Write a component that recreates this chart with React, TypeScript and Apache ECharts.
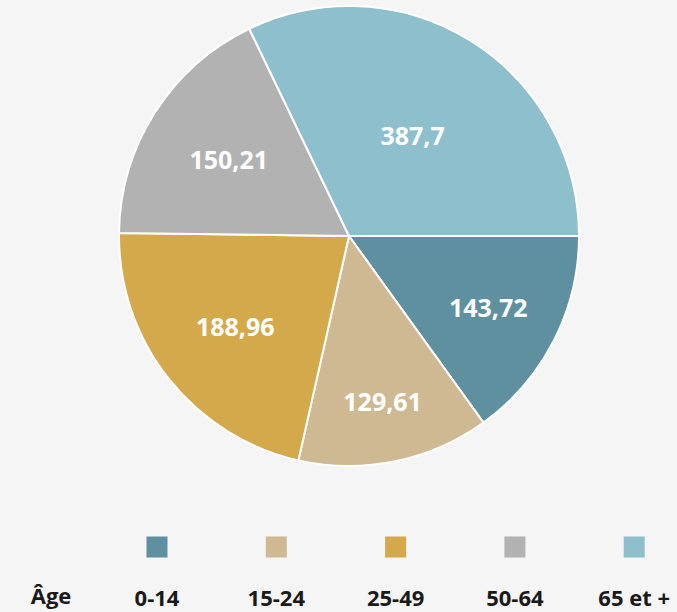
import React, { useEffect, useRef } from "react";
import * as echarts from "echarts";

const categories = ["0-14", "15-24", "25-49", "50-64", "65 et +"];
// Slice shares (%)
const shares = [15.06, 13.47, 21.68, 17.65, 32.14];
// Values printed on the slices
const labelValues = [143.72, 129.61, 188.96, 150.21, 387.7];
const colors = ["#5f909f", "#cfb993", "#d4a94c", "#b2b2b2", "#8ebfcc"];
const legendTitle = "Âge";

// layout constants
const CX = 349;
const CY = 236;
const R = 230;
const labelRadiusFactor = [0.68, 0.73, 0.63, 0.62, 0.52];

export default function App() {
  const ref = useRef<HTMLDivElement>(null);
  useEffect(() => {
    if (!ref.current) return;
    const chart = echarts.init(ref.current, null, { renderer: "svg" });
    const legendY = 547;
    const legendX0 = 157;
    const legendStep = 119.3;
    const graphics: any[] = [
      {
        type: "text",
        x: 51,
        y: 595,
        style: {
          text: legendTitle,
          fill: "#1a1a1a",
          font: "bold 22px 'Open Sans'",
          textAlign: "center",
          textVerticalAlign: "middle",
        },
      },
    ];
    categories.forEach((c, i) => {
      const x = legendX0 + i * legendStep;
      graphics.push({
        type: "rect",
        shape: { x: x - 10.5, y: legendY - 10.5, width: 21, height: 21 },
        style: { fill: colors[i] },
      });
      graphics.push({
        type: "text",
        x,
        y: 597,
        style: {
          text: c,
          fill: "#1a1a1a",
          font: "bold 22px 'Open Sans'",
          textAlign: "center",
          textVerticalAlign: "middle",
        },
      });
    });
    chart.setOption({
      animation: false,
      backgroundColor: "#f5f5f5",
      graphic: graphics,
      series: [
        {
          type: "pie",
          center: [CX, CY],
          radius: [0, R],
          startAngle: 0,
          clockwise: true,
          silent: true,
          itemStyle: { borderColor: "#ffffff", borderWidth: 2 },
          label: {
            show: true,
            position: "inside",
            color: "#ffffff",
            fontFamily: "Open Sans",
            fontWeight: "bold",
            fontSize: 25,
            formatter: (p: any) => String(labelValues[p.dataIndex]).replace(".", ","),
          },
          labelLine: { show: false },
          labelLayout: (p: any) => {
            const r = p.labelRect;
            const lx = r.x + r.width / 2;
            const ly = r.y + r.height / 2;
            const vx = lx - CX;
            const vy = ly - CY;
            const d = Math.sqrt(vx * vx + vy * vy) || 1;
            const target = labelRadiusFactor[p.dataIndex] * R;
            return { dx: (vx / d) * target - vx, dy: (vy / d) * target - vy };
          },
          data: categories.map((c, i) => ({
            name: c,
            value: shares[i],
            itemStyle: { color: colors[i] },
          })),
        },
      ],
    });
    return () => chart.dispose();
  }, []);
  return (
    <div
      ref={ref}
      style={{ position: "fixed", left: 0, top: 0, width: 677, height: 612 }}
    />
  );
}
